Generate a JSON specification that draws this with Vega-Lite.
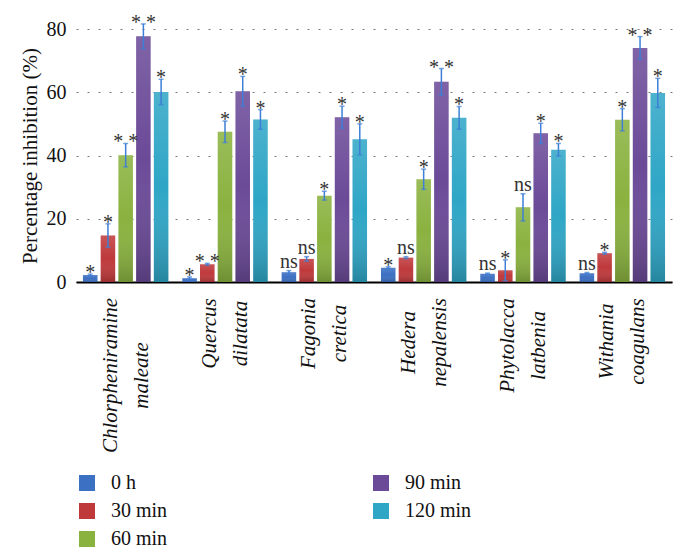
{
  "$schema": "https://vega.github.io/schema/vega-lite/v6.json",
  "width": 596,
  "height": 253,
  "autosize": {"type": "none"},
  "padding": {"left": 76, "top": 29, "right": 15, "bottom": 278},
  "background": "white",
  "config": {"view": {"stroke": null}, "font": "Liberation Serif"},
  "data": {
    "values": [
      {"plant": "Chlorpheniramine maleate", "time": "0 h", "value": 2.2, "lo": 1.9, "hi": 2.5, "sig": "*"},
      {"plant": "Chlorpheniramine maleate", "time": "30 min", "value": 14.7, "lo": 11.0, "hi": 18.4, "sig": "*"},
      {"plant": "Chlorpheniramine maleate", "time": "60 min", "value": 40.1, "lo": 36.4, "hi": 43.8, "sig": "* *"},
      {"plant": "Chlorpheniramine maleate", "time": "90 min", "value": 77.7, "lo": 73.8, "hi": 81.6, "sig": "* *"},
      {"plant": "Chlorpheniramine maleate", "time": "120 min", "value": 60.1, "lo": 56.1, "hi": 64.1, "sig": "*"},
      {"plant": "Quercus dilatata", "time": "0 h", "value": 1.2, "lo": 0.8, "hi": 1.6, "sig": "*"},
      {"plant": "Quercus dilatata", "time": "30 min", "value": 5.6, "lo": 5.3, "hi": 5.9, "sig": "* *"},
      {"plant": "Quercus dilatata", "time": "60 min", "value": 47.5, "lo": 44.1, "hi": 50.9, "sig": "*"},
      {"plant": "Quercus dilatata", "time": "90 min", "value": 60.3, "lo": 55.6, "hi": 65.0, "sig": "*"},
      {"plant": "Quercus dilatata", "time": "120 min", "value": 51.4, "lo": 48.3, "hi": 54.5, "sig": "*"},
      {"plant": "Fagonia cretica", "time": "0 h", "value": 3.1, "lo": 2.6, "hi": 3.6, "sig": "ns"},
      {"plant": "Fagonia cretica", "time": "30 min", "value": 7.3, "lo": 6.6, "hi": 8.0, "sig": "ns"},
      {"plant": "Fagonia cretica", "time": "60 min", "value": 27.3, "lo": 25.9, "hi": 28.7, "sig": "*"},
      {"plant": "Fagonia cretica", "time": "90 min", "value": 52.1, "lo": 48.6, "hi": 55.6, "sig": "*"},
      {"plant": "Fagonia cretica", "time": "120 min", "value": 45.1, "lo": 40.2, "hi": 50.0, "sig": "*"},
      {"plant": "Hedera nepalensis", "time": "0 h", "value": 4.5, "lo": 4.2, "hi": 4.8, "sig": "*"},
      {"plant": "Hedera nepalensis", "time": "30 min", "value": 7.7, "lo": 7.4, "hi": 8.0, "sig": "ns"},
      {"plant": "Hedera nepalensis", "time": "60 min", "value": 32.5, "lo": 29.3, "hi": 35.7, "sig": "*"},
      {"plant": "Hedera nepalensis", "time": "90 min", "value": 63.3, "lo": 59.1, "hi": 67.5, "sig": "* *"},
      {"plant": "Hedera nepalensis", "time": "120 min", "value": 51.9, "lo": 48.3, "hi": 55.5, "sig": "*"},
      {"plant": "Phytolacca latbenia", "time": "0 h", "value": 2.6, "lo": 2.4, "hi": 2.8, "sig": "ns"},
      {"plant": "Phytolacca latbenia", "time": "30 min", "value": 3.7, "lo": 0.4, "hi": 7.0, "sig": "*"},
      {"plant": "Phytolacca latbenia", "time": "60 min", "value": 23.6, "lo": 19.3, "hi": 27.9, "sig": "ns"},
      {"plant": "Phytolacca latbenia", "time": "90 min", "value": 47.0, "lo": 43.8, "hi": 50.2, "sig": "*"},
      {"plant": "Phytolacca latbenia", "time": "120 min", "value": 41.8, "lo": 39.8, "hi": 43.8, "sig": "*"},
      {"plant": "Withania coagulans", "time": "0 h", "value": 2.8, "lo": 2.6, "hi": 3.0, "sig": "ns"},
      {"plant": "Withania coagulans", "time": "30 min", "value": 9.1, "lo": 8.8, "hi": 9.4, "sig": "*"},
      {"plant": "Withania coagulans", "time": "60 min", "value": 51.3, "lo": 47.8, "hi": 54.8, "sig": "*"},
      {"plant": "Withania coagulans", "time": "90 min", "value": 74.0, "lo": 70.4, "hi": 77.6, "sig": "* *"},
      {"plant": "Withania coagulans", "time": "120 min", "value": 59.8, "lo": 55.2, "hi": 64.4, "sig": "*"}
    ]
  },
  "encoding": {
    "x": {
      "field": "plant",
      "type": "nominal",
      "sort": null,
      "scale": {"paddingInner": 0.14, "paddingOuter": 0.07},
      "axis": {
        "title": null,
        "labelAngle": -90,
        "labelAlign": "center",
        "labelBaseline": "middle",
        "labelFontStyle": "italic",
        "labelFontSize": 21,
        "labelColor": "#111111",
        "labelLineHeight": 31,
        "labelLimit": 0,
        "labelOffset": -15,
        "labelExpr": "split(datum.label, ' ')",
        "ticks": false,
        "tickSize": 0,
        "domainColor": "#000000",
        "domainWidth": 2,
        "labelPadding": {
          "condition": [
            {"test": "datum.value === 'Chlorpheniramine maleate'", "value": 93},
            {"test": "datum.value === 'Hedera nepalensis'", "value": 60},
            {"test": "datum.value === 'Phytolacca latbenia'", "value": 63},
            {"test": "datum.value === 'Withania coagulans'", "value": 59}
          ],
          "value": 51
        }
      }
    },
    "xOffset": {
      "field": "time",
      "type": "nominal",
      "sort": ["0 h", "30 min", "60 min", "90 min", "120 min"],
      "scale": {"paddingInner": 0.18, "paddingOuter": 0}
    }
  },
  "layer": [
    {
      "mark": {"type": "bar"},
      "encoding": {
        "y": {
          "field": "value",
          "type": "quantitative",
          "scale": {"domain": [0, 80]},
          "axis": {
            "title": "Percentage inhibition (%)",
            "titleFontSize": 21,
            "titleFontWeight": "normal",
            "titleColor": "#111111",
            "titlePadding": 6,
            "labelFontSize": 20,
            "labelColor": "#111111",
            "labelPadding": 10,
            "domain": false,
            "ticks": false,
            "values": [0, 20, 40, 60, 80],
            "gridDash": [2, 9],
            "gridColor": "#777777",
            "gridWidth": 1
          }
        },
        "color": {
          "field": "time",
          "type": "nominal",
          "scale": {
            "domain": ["0 h", "30 min", "60 min", "90 min", "120 min"],
            "range": ["#3c70c2", "#bf393b", "#8ab23f", "#6b4a98", "#2fa6c6"]
          },
          "legend": {
            "title": null,
            "orient": "none",
            "legendX": 1,
            "legendY": 444,
            "columns": 2,
            "columnPadding": 203,
            "rowPadding": 8,
            "symbolType": "square",
            "symbolSize": 256,
            "symbolStrokeWidth": 0,
            "symbolOpacity": 1,
            "labelFontSize": 20,
            "labelOffset": 14,
            "labelColor": "#111111"
          }
        }
      }
    },
    {
      "mark": {
        "type": "bar",
        "color": {
          "gradient": "linear",
          "x1": 0, "y1": 0, "x2": 0, "y2": 1,
          "stops": [
            {"offset": 0, "color": "rgba(255,255,255,0.14)"},
            {"offset": 0.5, "color": "rgba(255,255,255,0)"},
            {"offset": 1, "color": "rgba(0,0,0,0.2)"}
          ]
        }
      },
      "encoding": {
        "y": {"field": "value", "type": "quantitative"}
      }
    },
    {
      "mark": {"type": "rule", "color": "#3d7fd6", "strokeWidth": 1.5},
      "encoding": {
        "y": {"field": "lo", "type": "quantitative"},
        "y2": {"field": "hi"}
      }
    },
    {
      "mark": {"type": "tick", "color": "#3d7fd6", "size": 5, "thickness": 1.5, "orient": "horizontal"},
      "encoding": {"y": {"field": "hi", "type": "quantitative"}}
    },
    {
      "mark": {"type": "tick", "color": "#3d7fd6", "size": 5, "thickness": 1.5, "orient": "horizontal"},
      "encoding": {"y": {"field": "lo", "type": "quantitative"}}
    },
    {
      "transform": [{"filter": "datum.sig !== 'ns'"}],
      "mark": {"type": "text", "fontSize": 20, "color": "#333333", "baseline": "alphabetic", "align": "center", "dy": 5},
      "encoding": {
        "y": {"field": "hi", "type": "quantitative"},
        "text": {"field": "sig"}
      }
    },
    {
      "transform": [{"filter": "datum.sig === 'ns'"}],
      "mark": {"type": "text", "fontSize": 20, "color": "#333333", "baseline": "alphabetic", "align": "center", "dy": -3},
      "encoding": {
        "y": {"field": "hi", "type": "quantitative"},
        "text": {"field": "sig"}
      }
    }
  ]
}
